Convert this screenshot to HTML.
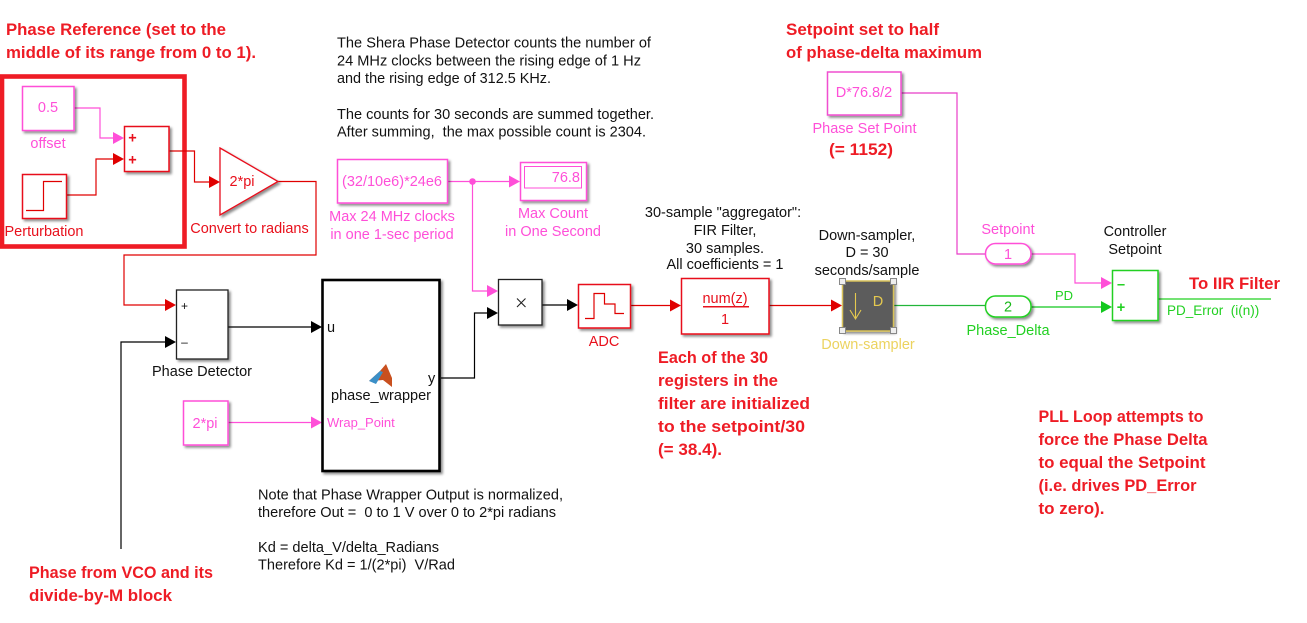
<!DOCTYPE html>
<html>
<head>
<meta charset="utf-8">
<style>
html,body{margin:0;padding:0;background:#fff;width:1307px;height:623px;overflow:hidden}
svg{display:block}
text{font-family:"Liberation Sans",Arial,sans-serif;font-size:14.5px;white-space:pre}
.r{font-weight:bold;fill:#ee1c25;font-size:16.5px}
.k{fill:#111}
.m{fill:#ff4fd8}
.d{fill:#e8101c}
.g{fill:#22d022}
.mid{text-anchor:middle}
.bl{fill:#fff;filter:url(#s)}
</style>
</head>
<body>
<svg width="1307" height="623" viewBox="0 0 1307 623" xmlns="http://www.w3.org/2000/svg">
<defs>
<filter id="s" x="-20%" y="-20%" width="150%" height="150%"><feDropShadow dx="2" dy="2" stdDeviation="1.2" flood-color="#000" flood-opacity=".45"/></filter>
</defs>
<rect width="1307" height="623" fill="#fff"/>

<!-- Red highlight -->
<rect x="2" y="76.500" width="182.500" height="170" fill="none" stroke="#ee1c25" stroke-width="4.600"/>

<!-- wires -->
<g fill="none" stroke-width="1.200">
<path d="M74 108H100V138H114" stroke="#ff4fd8"/>
<path d="M66 195H96V159H114" stroke="#e00000"/>
<path d="M169 151H194.500V182H210" stroke="#e00000"/>
<path d="M278 181.500H316V255H124V305H166" stroke="#e00000"/>
<path d="M228 327H312" stroke="#000"/>
<path d="M121 549V342H166" stroke="#000"/>
<path d="M228 422.500H312" stroke="#ff4fd8"/>
<path d="M441 378H474.500V313H488" stroke="#000"/>
<path d="M447 181.500H510" stroke="#ff4fd8"/>
<path d="M472.500 181.500V291H488" stroke="#ff4fd8"/>
<path d="M542 305H568" stroke="#000"/>
<path d="M630 305.500H671" stroke="#e00000"/>
<path d="M769 305.500H832" stroke="#e00000"/>
<path d="M894 305.500H985" stroke="#22b53a"/>
<path d="M901 93H957V254H985" stroke="#e83cc8"/>
<path d="M1031 254H1075V283H1102" stroke="#ff4fd8"/>
<path d="M1031 307H1102" stroke="#12c81e"/>
<path d="M1158 299H1271" stroke="#22d022"/>
</g>
<circle cx="472.500" cy="181.500" r="3.300" fill="#ff4fd8"/>

<!-- arrowheads -->
<g>
<path d="M113 132L124 138L113 144Z" fill="#ff4fd8"/>
<path d="M113 153L124 159L113 165Z" fill="#e00000"/>
<path d="M209 176L220 182L209 188Z" fill="#e00000"/>
<path d="M165 299L176 305L165 311Z" fill="#e00000"/>
<path d="M165 336L176 342L165 348Z" fill="#000"/>
<path d="M311 321L322 327L311 333Z" fill="#000"/>
<path d="M311 416.500L322 422.500L311 428.500Z" fill="#ff4fd8"/>
<path d="M509 175.500L520 181.500L509 187.500Z" fill="#ff4fd8"/>
<path d="M487 285L498 291L487 297Z" fill="#ff4fd8"/>
<path d="M487 307L498 313L487 319Z" fill="#000"/>
<path d="M567 299L578 305L567 311Z" fill="#000"/>
<path d="M670 299.500L681 305.500L670 311.500Z" fill="#e00000"/>
<path d="M831 299.500L842 305.500L831 311.500Z" fill="#e00000"/>
<path d="M1101 277L1112 283L1101 289Z" fill="#ff4fd8"/>
<path d="M1101 301L1112 307L1101 313Z" fill="#12c81e"/>
</g>

<!-- Blocks -->
<rect class="bl" x="22.500" y="86.500" width="51.500" height="44" stroke="#ff4fd8" stroke-width="1.500"/>
<text x="48" y="112" class="m mid">0.5</text>
<text x="48" y="148" class="m mid">offset</text>

<rect class="bl" x="22.500" y="174.500" width="44" height="44" stroke="#e8101c" stroke-width="1.500"/>
<path d="M26 210.500H43.500V181.500H62" fill="none" stroke="#e00000" stroke-width="1.200"/>
<text x="44" y="236" class="d mid">Perturbation</text>

<rect class="bl" x="124.500" y="126.500" width="44.500" height="45" stroke="#e8101c" stroke-width="1.500"/>
<text x="132.500" y="142.500" class="d mid" style="font-weight:bold">+</text>
<text x="132.500" y="164.500" class="d mid" style="font-weight:bold">+</text>

<path class="bl" d="M220 148L278 181.500L220 215Z" stroke="#e8101c" stroke-width="1.300"/>
<text x="242" y="186" class="d mid">2*pi</text>
<text x="249.500" y="233" class="d mid">Convert to radians</text>

<rect class="bl" x="337.500" y="159.500" width="110" height="43.500" stroke="#ff4fd8" stroke-width="1.500"/>
<text x="392" y="186" class="m mid">(32/10e6)*24e6</text>
<text x="392" y="221" class="m mid">Max 24 MHz clocks</text>
<text x="392" y="239" class="m mid">in one 1-sec period</text>

<rect class="bl" x="520.500" y="162.500" width="66" height="38" stroke="#ff4fd8" stroke-width="1.500"/>
<rect x="524.500" y="166.500" width="57" height="21.500" fill="none" stroke="#ff4fd8" stroke-width="1"/>
<text x="580" y="182" class="m" text-anchor="end">76.8</text>
<text x="553" y="218" class="m mid">Max Count</text>
<text x="553" y="236" class="m mid">in One Second</text>

<rect class="bl" x="176.500" y="290" width="51.500" height="69" stroke="#222" stroke-width="1.300"/>
<text x="184.500" y="310" class="k mid" style="font-size:12px">+</text>
<text x="184.500" y="346" class="k mid" style="font-size:12px">–</text>
<text x="202" y="376" class="k mid">Phase Detector</text>

<rect class="bl" x="322.500" y="280" width="117" height="191" stroke="#000" stroke-width="2.600"/>
<text x="327" y="332" class="k">u</text>
<text x="428" y="383" class="k">y</text>
<text x="381" y="400" class="k mid">phase_wrapper</text>
<text x="327" y="427" class="m" style="font-size:13px">Wrap_Point</text>
<path d="M369 381L380 371L386 364L392 378L392 387L383 380Z" fill="#c9501f"/>
<path d="M369 381L380 371L383 372L376 384Z" fill="#3b8fc7"/>

<rect class="bl" x="498.500" y="279.500" width="43.500" height="45.500" stroke="#222" stroke-width="1.300"/>
<path d="M517 298.500L525.500 307M525.500 298.500L517 307" fill="none" stroke="#222" stroke-width="1.100"/>

<rect class="bl" x="183.500" y="401" width="44.500" height="44" stroke="#ff4fd8" stroke-width="1.500"/>
<text x="205" y="428" class="m mid">2*pi</text>

<rect class="bl" x="578.500" y="284.500" width="52" height="43.500" stroke="#e8101c" stroke-width="1.500"/>
<path d="M585 318.500H594V293.500H604.500V304H615V313.500H624" fill="none" stroke="#e00000" stroke-width="1.200"/>
<text x="604" y="346" class="d mid">ADC</text>

<rect class="bl" x="681.500" y="278.500" width="87.500" height="55.500" stroke="#e8101c" stroke-width="1.500"/>
<text x="725" y="303" class="d mid">num(z)</text>
<rect x="703" y="306" width="46" height="1.500" fill="#e8101c"/>
<text x="725" y="324" class="d mid">1</text>

<rect x="842.500" y="281" width="51" height="50" fill="#5c5c5c" stroke="#d8c25a" stroke-width="1.500" filter="url(#s)"/>
<path d="M855.500 293V318M850 310L855.500 319L861 310" fill="none" stroke="#e5c94f" stroke-width="1.100"/>
<text x="878" y="306" style="font-size:14.500px;fill:#e5c94f" class="mid">D</text>
<g fill="#eee" stroke="#888" stroke-width="1">
<rect x="839.500" y="278.500" width="6" height="6"/>
<rect x="890.500" y="278.500" width="6" height="6"/>
<rect x="839.500" y="327.500" width="6" height="6"/>
<rect x="890.500" y="327.500" width="6" height="6"/>
</g>
<text x="868" y="349" class="mid" style="fill:#ecd35f">Down-sampler</text>

<rect class="bl" x="827.500" y="72" width="73.500" height="43" stroke="#f04fd0" stroke-width="1.500"/>
<text x="864" y="97" class="m mid">D*76.8/2</text>
<text x="864.500" y="133" class="m mid">Phase Set Point</text>

<rect class="bl" x="985.500" y="243.500" width="45.500" height="20.500" rx="10" stroke="#ff4fd8" stroke-width="1.500"/>
<text x="1008" y="259" class="m mid">1</text>
<text x="1008" y="234" class="m mid">Setpoint</text>

<rect class="bl" x="985.500" y="296" width="45.500" height="21" rx="10" stroke="#22d022" stroke-width="1.500"/>
<text x="1008" y="311.500" class="g mid" style="fill:#18b818">2</text>
<text x="1008" y="335" class="g mid">Phase_Delta</text>
<text x="1064" y="300" class="g mid" style="font-size:13px">PD</text>

<rect class="bl" x="1112.500" y="270.500" width="45.500" height="50" stroke="#22d022" stroke-width="1.500"/>
<text x="1121" y="289" class="g mid" style="font-weight:bold">–</text>
<text x="1121" y="312" class="g mid" style="font-weight:bold">+</text>
<text x="1135" y="236" class="k mid">Controller</text>
<text x="1135" y="254" class="k mid">Setpoint</text>
<text x="1167" y="315" class="g" style="font-size:13.500px">PD_Error  (i(n))</text>

<!-- Black notes -->
<text x="337" y="47.500" class="k" textLength="314" lengthAdjust="spacingAndGlyphs">The Shera Phase Detector counts the number of</text>
<text x="337" y="65.500" class="k" textLength="304" lengthAdjust="spacingAndGlyphs">24 MHz clocks between the rising edge of 1 Hz</text>
<text x="337" y="83" class="k" textLength="214" lengthAdjust="spacingAndGlyphs">and the rising edge of 312.5 KHz.</text>
<text x="337" y="119" class="k" textLength="317" lengthAdjust="spacingAndGlyphs">The counts for 30 seconds are summed together.</text>
<text x="337" y="136.500" class="k" textLength="309" lengthAdjust="spacingAndGlyphs">After summing,  the max possible count is 2304.</text>

<text x="723" y="217" class="k mid">30-sample "aggregator":</text>
<text x="725" y="235" class="k mid">FIR Filter,</text>
<text x="725" y="253" class="k mid">30 samples.</text>
<text x="725" y="269" class="k mid">All coefficients = 1</text>
<text x="867" y="240" class="k mid">Down-sampler,</text>
<text x="867" y="257" class="k mid">D = 30</text>
<text x="867" y="275" class="k mid">seconds/sample</text>

<text x="258" y="499.500" class="k" textLength="305" lengthAdjust="spacingAndGlyphs">Note that Phase Wrapper Output is normalized,</text>
<text x="258" y="517" class="k" textLength="298" lengthAdjust="spacingAndGlyphs">therefore Out =  0 to 1 V over 0 to 2*pi radians</text>
<text x="258" y="552" class="k" textLength="181" lengthAdjust="spacingAndGlyphs">Kd = delta_V/delta_Radians</text>
<text x="258" y="569.500" class="k" textLength="197" lengthAdjust="spacingAndGlyphs">Therefore Kd = 1/(2*pi)  V/Rad</text>

<!-- Red notes -->
<text x="6" y="35" class="r" textLength="220" lengthAdjust="spacingAndGlyphs">Phase Reference (set to the</text>
<text x="6" y="58" class="r" textLength="250" lengthAdjust="spacingAndGlyphs">middle of its range from 0 to 1).</text>
<text x="786" y="35" class="r" textLength="153" lengthAdjust="spacingAndGlyphs">Setpoint set to half</text>
<text x="786" y="58" class="r" textLength="196" lengthAdjust="spacingAndGlyphs">of phase-delta maximum</text>
<text x="829" y="155" class="r" textLength="64" lengthAdjust="spacingAndGlyphs">(= 1152)</text>
<text x="1189" y="289" class="r" textLength="91" lengthAdjust="spacingAndGlyphs">To IIR Filter</text>
<text x="658" y="363" class="r" textLength="110" lengthAdjust="spacingAndGlyphs">Each of the 30</text>
<text x="658" y="386" class="r" textLength="120" lengthAdjust="spacingAndGlyphs">registers in the</text>
<text x="658" y="409" class="r" textLength="152" lengthAdjust="spacingAndGlyphs">filter are initialized</text>
<text x="658" y="432" class="r" textLength="147" lengthAdjust="spacingAndGlyphs">to the setpoint/30</text>
<text x="658" y="455" class="r" textLength="64" lengthAdjust="spacingAndGlyphs">(= 38.4).</text>
<text x="1038.500" y="422" class="r" textLength="165" lengthAdjust="spacingAndGlyphs">PLL Loop attempts to</text>
<text x="1038.500" y="445" class="r" textLength="169" lengthAdjust="spacingAndGlyphs">force the Phase Delta</text>
<text x="1038.500" y="468" class="r" textLength="167" lengthAdjust="spacingAndGlyphs">to equal the Setpoint</text>
<text x="1038.500" y="491" class="r" textLength="158" lengthAdjust="spacingAndGlyphs">(i.e. drives PD_Error</text>
<text x="1038.500" y="514" class="r" textLength="66" lengthAdjust="spacingAndGlyphs">to zero).</text>
<text x="29" y="578" class="r" textLength="184" lengthAdjust="spacingAndGlyphs">Phase from VCO and its</text>
<text x="29" y="601" class="r" textLength="143" lengthAdjust="spacingAndGlyphs">divide-by-M block</text>
</svg>
</body>
</html>
